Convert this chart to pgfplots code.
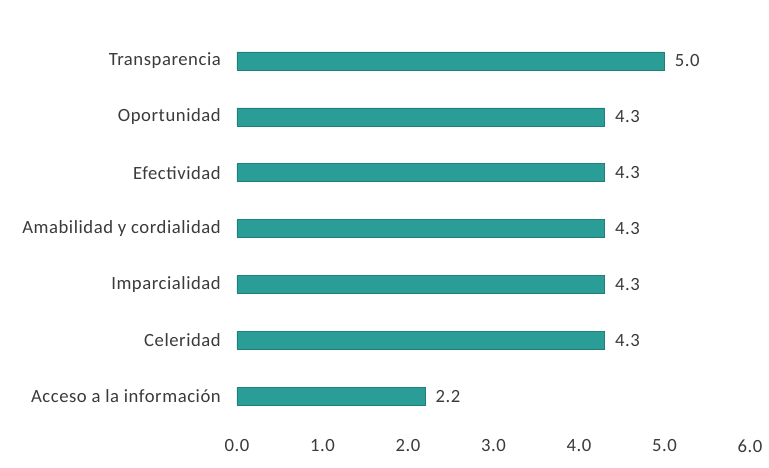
\documentclass[border=0pt]{standalone}
\usepackage{pgfplots}
\pgfplotsset{compat=1.18}
\usepackage{fontspec}
\setmainfont{Carlito}[LetterSpace=3]
\definecolor{barteal}{HTML}{2A9D97}
\definecolor{txt}{HTML}{3A3A3A}
\begin{document}
\fontsize{14pt}{16pt}\selectfont
\begin{tikzpicture}
\begin{axis}[
  at={(0,0)}, anchor=south west,
  scale only axis,
  width=384.75pt, height=293.25pt,
  xbar, bar width=13.5pt,
  xmin=0, xmax=6,
  ymin=-0.5, ymax=6.5,
  xtick={0,1,2,3,4,5,6},
  /pgf/number format/fixed,
  /pgf/number format/fixed zerofill,
  /pgf/number format/precision=1,
  /pgf/number format/assume math mode=true,
  ytick={0,1,2,3,4,5,6},
  yticklabels={Acceso a la información,Celeridad,Imparcialidad,Amabilidad y cordialidad,Efectividad,Oportunidad,Transparencia},
  y tick label style={xshift=-3pt, text=txt},
  x tick label style={text=txt, yshift=-7pt},
  axis line style={draw=none},
  tick style={draw=none},
  nodes near coords,
  nodes near coords style={text=txt, xshift=3pt},
]
\addplot[fill=barteal, draw=barteal!80!black] coordinates {
 (2.2,0) (4.3,1) (4.3,2) (4.3,3) (4.3,4) (4.3,5) (5.0,6)
};
\end{axis}
\pgfresetboundingbox
\path[use as bounding box] (-177.75pt,-33pt) rectangle (399pt,318pt);
\end{tikzpicture}
\end{document}
